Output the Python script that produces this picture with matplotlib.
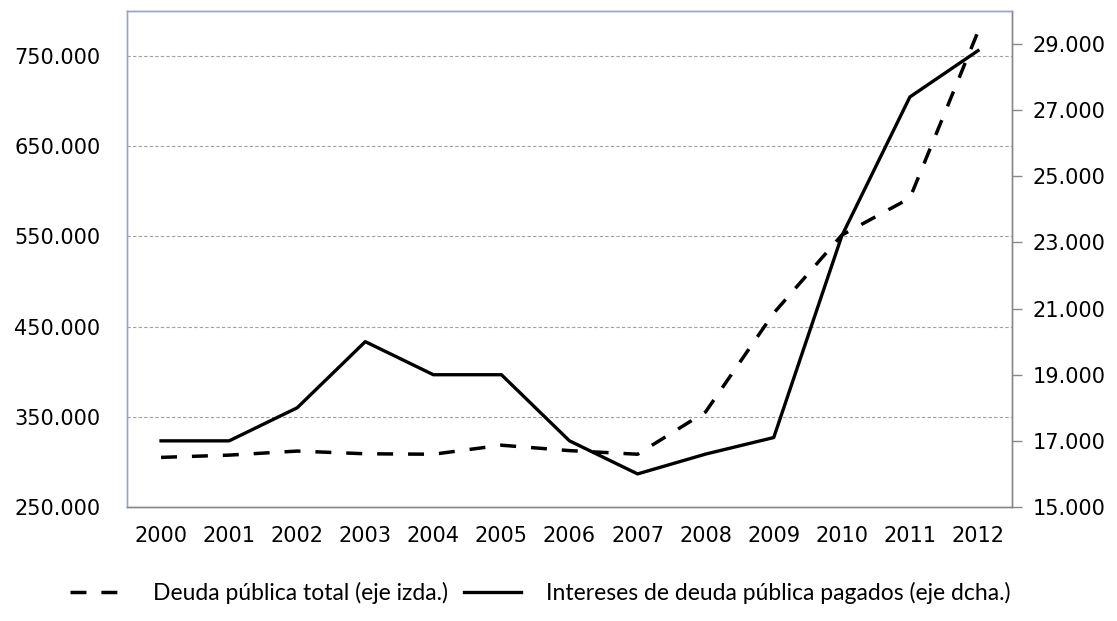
import numpy as np
import matplotlib
matplotlib.use("Agg")
import matplotlib.pyplot as plt
from matplotlib.ticker import FuncFormatter, FixedLocator

# Datos
years = ['2000', '2001', '2002', '2003', '2004', '2005', '2006',
         '2007', '2008', '2009', '2010', '2011', '2012']
# Deuda publica total (eje izquierdo)
deuda_total = [305000, 307500, 312000, 309000, 308500, 318500, 312500,
               308500, 355500, 465000, 551500, 592500, 777000]
# Intereses de deuda publica pagados (eje derecho)
intereses = [17000, 17000, 18000, 20000, 19000, 19000, 17000,
             16000, 16600, 17100, 23200, 27400, 28800]

left_ticks = [250000, 350000, 450000, 550000, 650000, 750000]
right_ticks = [15000, 17000, 19000, 21000, 23000, 25000, 27000, 29000]

label_deuda = 'Deuda pública total (eje izda.)'
label_intereses = 'Intereses de deuda pública pagados (eje dcha.)'


def miles(v, pos=None):
    # separador de miles con punto
    return f"{int(round(v)):,}".replace(",", ".")


fig = plt.figure(figsize=(11.17, 6.21), dpi=100)
ax1 = fig.add_axes([0.1137, 0.1836, 0.7923, 0.7987])
ax2 = ax1.twinx()

x = np.arange(len(years))

line1, = ax1.plot(x, deuda_total, color='black', lw=2.5,
                  linestyle=(0, (4.6, 4.3)), dash_capstyle='butt')
line2, = ax2.plot(x, intereses, color='black', lw=2.4)

# Eje izquierdo
ax1.set_xlim(-0.5, len(years) - 0.5)
ax1.set_ylim(250000, 800000)
ax1.yaxis.set_major_locator(FixedLocator(left_ticks))
ax1.yaxis.set_major_formatter(FuncFormatter(miles))
ax1.tick_params(axis='y', length=0, pad=19, labelsize=15)
ax1.set_xticks(x)
ax1.set_xticklabels(years)
ax1.tick_params(axis='x', length=0, pad=14, labelsize=15)

# Rejilla discontinua
for t in left_ticks[1:]:
    ax1.axhline(t, color='#a0a0a0', lw=0.8, linestyle=(0, (3, 2)), zorder=0)

# Eje derecho
ax2.set_ylim(15000, 30000)
ax2.yaxis.set_major_locator(FixedLocator(right_ticks))
ax2.yaxis.set_major_formatter(FuncFormatter(miles))
ax2.tick_params(axis='y', length=7, width=1, color='#888888', pad=8,
                labelsize=15, direction='out')

for ax in (ax1, ax2):
    ax.spines['top'].set_color('#94a5c5')
    ax.spines['left'].set_color('#94a5c5')
    ax.spines['right'].set_color('#888888')
    ax.spines['bottom'].set_color('#888888')
    for s in ax.spines.values():
        s.set_linewidth(1.0)

fig.legend([line1, line2], [label_deuda, label_intereses],
           loc='center', bbox_to_anchor=(0.484, 0.045), ncol=2,
           frameon=False, prop={'family': 'Lato', 'size': 16.5},
           handlelength=2.5, handletextpad=1.1, columnspacing=0.7)

fig.savefig('out.png', dpi=100)
